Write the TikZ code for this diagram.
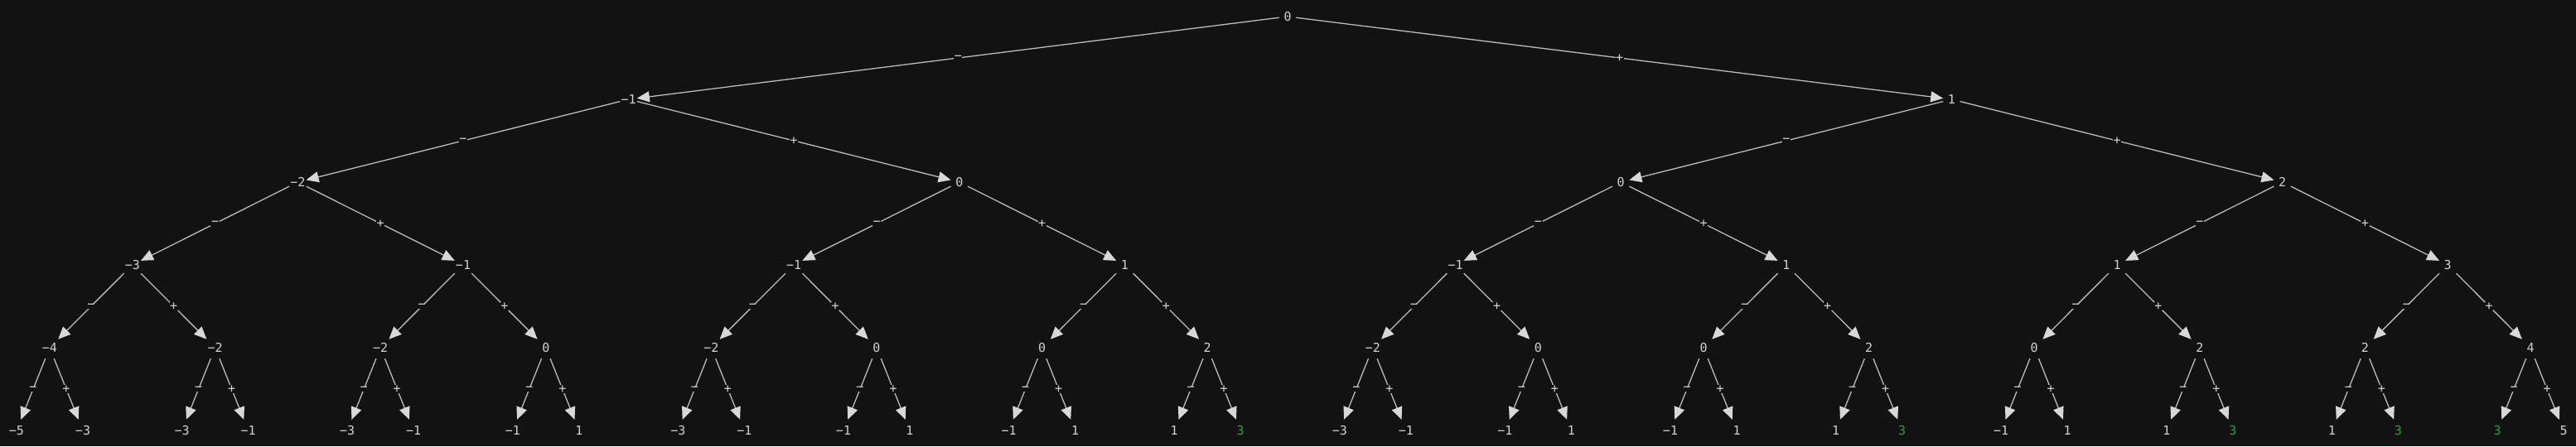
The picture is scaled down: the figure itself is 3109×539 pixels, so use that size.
\documentclass[tikz,border=0pt]{standalone}
\usepackage{fontspec}
\usetikzlibrary{arrows.meta}
\newfontfamily\monofam{DejaVu Sans Mono}
\newcommand\dfont{\monofam\fontsize{15pt}{18pt}\selectfont}
\definecolor{bg}{HTML}{121212}
\definecolor{fg}{HTML}{D2D2D2}
\definecolor{ln}{HTML}{BBBBBB}
\definecolor{ah}{HTML}{D8D8D8}
\definecolor{grn}{HTML}{2EA043}
\tikzset{
  vn/.style={text=fg, font=\dfont, minimum width=20pt, minimum height=26pt, inner sep=1pt},
  vg/.style={vn, text=grn},
  edge/.style={draw=ln, line width=1.3pt, -{Triangle[length=15pt,width=13pt,color=ah,fill=ah]}},
  elab/.style={fill=bg, text=fg, font=\dfont, inner sep=0.6pt}
}
\begin{document}
\begin{tikzpicture}[x=1pt,y=-1pt]
\fill[bg] (0,0) rectangle (3109,539);
\useasboundingbox (0,0) rectangle (3109,539);
% level 0-2
\node[vn] (n) at (1554,20) {0};
\node[vn] (n0) at (758.6,120) {−1};
\node[vn] (n1) at (2355.4,120) {1};
\node[vn] (n00) at (359.4,220) {−2};
\node[vn] (n01) at (1157.8,220) {0};
\node[vn] (n10) at (1956.2,220) {0};
\node[vn] (n11) at (2754.6,220) {2};
% level 3
\node[vn] (n000) at (159.8,320) {−3};
\node[vn] (n001) at (559,320) {−1};
\node[vn] (n010) at (958.2,320) {−1};
\node[vn] (n011) at (1357.4,320) {1};
\node[vn] (n100) at (1756.6,320) {−1};
\node[vn] (n101) at (2155.8,320) {1};
\node[vn] (n110) at (2555,320) {1};
\node[vn] (n111) at (2954.2,320) {3};
% level 4
\node[vn] (n0000) at (60,420) {−4};
\node[vn] (n0001) at (259.6,420) {−2};
\node[vn] (n0010) at (459.2,420) {−2};
\node[vn] (n0011) at (658.8,420) {0};
\node[vn] (n0100) at (858.4,420) {−2};
\node[vn] (n0101) at (1058,420) {0};
\node[vn] (n0110) at (1257.6,420) {0};
\node[vn] (n0111) at (1457.2,420) {2};
\node[vn] (n1000) at (1656.8,420) {−2};
\node[vn] (n1001) at (1856.4,420) {0};
\node[vn] (n1010) at (2056,420) {0};
\node[vn] (n1011) at (2255.6,420) {2};
\node[vn] (n1100) at (2455.2,420) {0};
\node[vn] (n1101) at (2654.8,420) {2};
\node[vn] (n1110) at (2854.4,420) {2};
\node[vn] (n1111) at (3054,420) {4};
% leaves
\node[vn] (n00000) at (20,520) {−5};
\node[vn] (n00001) at (100,520) {−3};
\node[vn] (n00010) at (219.6,520) {−3};
\node[vn] (n00011) at (299.6,520) {−1};
\node[vn] (n00100) at (419.2,520) {−3};
\node[vn] (n00101) at (499.2,520) {−1};
\node[vn] (n00110) at (618.8,520) {−1};
\node[vn] (n00111) at (698.8,520) {1};
\node[vn] (n01000) at (818.4,520) {−3};
\node[vn] (n01001) at (898.4,520) {−1};
\node[vn] (n01010) at (1018,520) {−1};
\node[vn] (n01011) at (1098,520) {1};
\node[vn] (n01100) at (1217.6,520) {−1};
\node[vn] (n01101) at (1297.6,520) {1};
\node[vn] (n01110) at (1417.2,520) {1};
\node[vg] (n01111) at (1497.2,520) {3};
\node[vn] (n10000) at (1616.8,520) {−3};
\node[vn] (n10001) at (1696.8,520) {−1};
\node[vn] (n10010) at (1816.4,520) {−1};
\node[vn] (n10011) at (1896.4,520) {1};
\node[vn] (n10100) at (2016,520) {−1};
\node[vn] (n10101) at (2096,520) {1};
\node[vn] (n10110) at (2215.6,520) {1};
\node[vg] (n10111) at (2295.6,520) {3};
\node[vn] (n11000) at (2415.2,520) {−1};
\node[vn] (n11001) at (2495.2,520) {1};
\node[vn] (n11010) at (2614.8,520) {1};
\node[vg] (n11011) at (2694.8,520) {3};
\node[vn] (n11100) at (2814.4,520) {1};
\node[vg] (n11101) at (2894.4,520) {3};
\node[vg] (n11110) at (3014,520) {3};
\node[vn] (n11111) at (3094,520) {5};
% edges
\foreach \p in {n,n0,n1,n00,n01,n10,n11,n000,n001,n010,n011,n100,n101,n110,n111,
  n0000,n0001,n0010,n0011,n0100,n0101,n0110,n0111,n1000,n1001,n1010,n1011,n1100,n1101,n1110,n1111}{
  \draw[edge] (\p) -- node[elab]{−} (\p0);
  \draw[edge] (\p) -- node[elab]{+} (\p1);
}
\end{tikzpicture}
\end{document}
